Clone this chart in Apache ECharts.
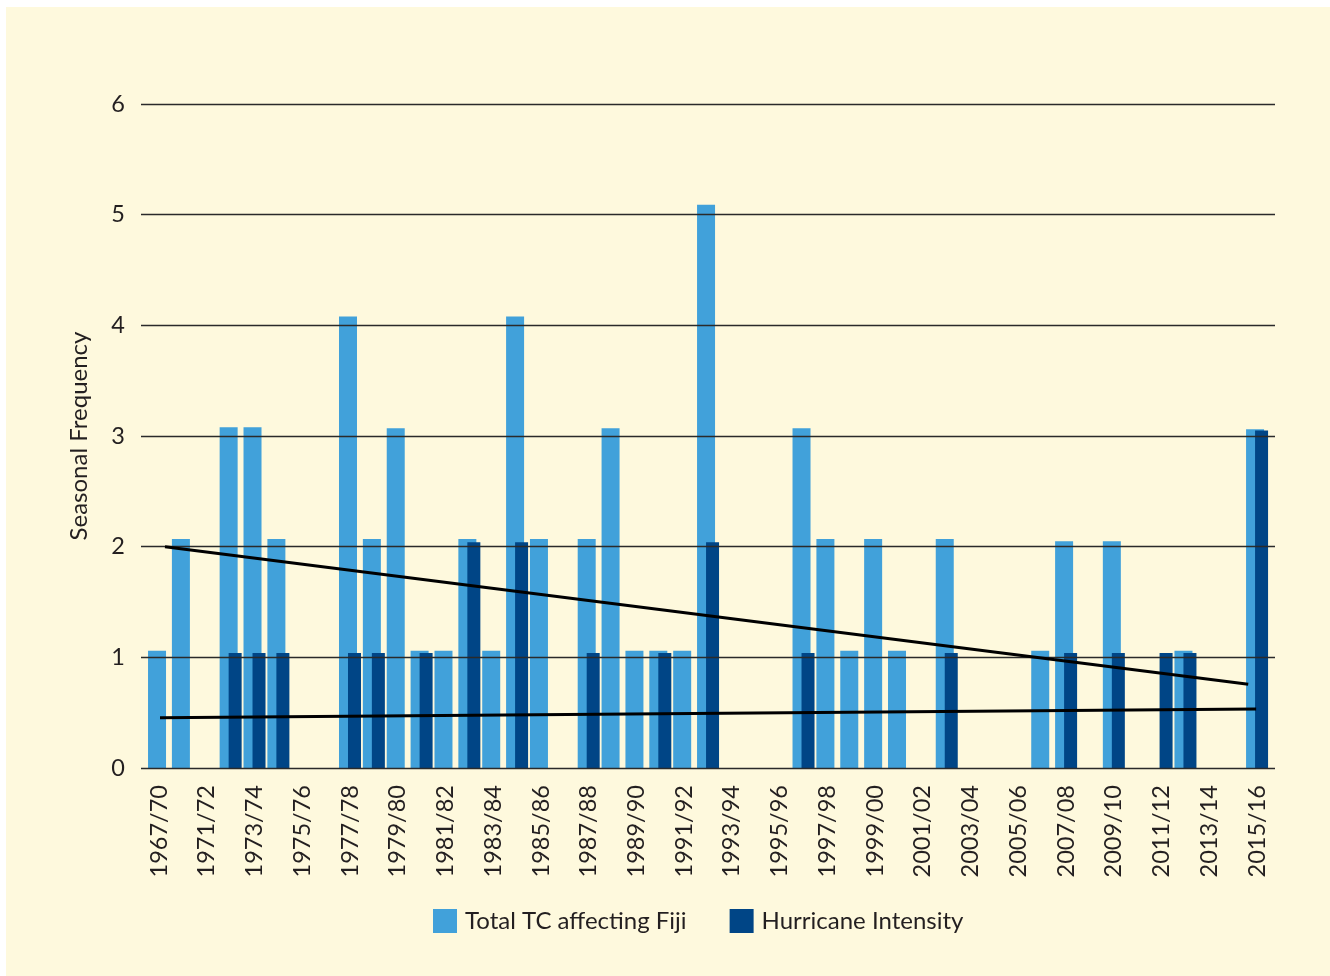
<!DOCTYPE html>
<html>
<head>
<meta charset="utf-8">
<script src="https://cdn.jsdelivr.net/npm/echarts@6/dist/echarts.min.js"></script>
<style>
  html, body { margin: 0; padding: 0; background: #ffffff; }
  #chart { position: absolute; left: 6px; top: 7px; width: 1324px; height: 969px; background: #fef9dd; }
</style>
</head>
<body>
<div id="chart"></div>
<script>
const seasons = [
  "1967/70", "1970/71", "1971/72", "1972/73", "1973/74", "1974/75", "1975/76", "1976/77",
  "1977/78", "1978/79", "1979/80", "1980/81", "1981/82", "1982/83", "1983/84", "1984/85",
  "1985/86", "1986/87", "1987/88", "1988/89", "1989/90", "1990/91", "1991/92", "1992/93",
  "1993/94", "1994/95", "1995/96", "1996/97", "1997/98", "1998/99", "1999/00", "2000/01",
  "2001/02", "2002/03", "2003/04", "2004/05", "2005/06", "2006/07", "2007/08", "2008/09",
  "2009/10", "2010/11", "2011/12", "2012/13", "2013/14", "2014/15", "2015/16"
]

const totalTC = [
  1.06, 2.07, null, 3.08, 3.08, 2.07, null, null,
  4.08, 2.07, 3.07, 1.06, 1.06, 2.07, 1.06, 4.08,
  2.07, null, 2.07, 3.07, 1.06, 1.06, 1.06, 5.09,
  null, null, null, 3.07, 2.07, 1.06, 2.07, 1.06,
  null, 2.07, null, null, null, 1.06, 2.05, null,
  2.05, null, null, 1.06, null, null, 3.06
]

const hurricanes = [
  null, null, null, 1.04, 1.04, 1.04, null, null,
  1.04, 1.04, null, 1.04, null, 2.04, null, 2.04,
  null, null, 1.04, null, null, 1.04, null, 2.04,
  null, null, null, 1.04, null, null, null, null,
  null, 1.04, null, null, null, null, 1.04, null,
  1.04, null, 1.04, 1.04, null, null, 3.05
]

// trend lines: [category position, value] at each end
const trendTotal = [[0.25, 2.0], [45.63, 0.756]]
const trendHurricane = [[0.04, 0.455], [45.96, 0.533]]

const yTicks = { min: 0, max: 6, interval: 1 }

const font = "Lato, 'Open Sans', sans-serif"
const ink = "#231f20"

const chart = echarts.init(document.getElementById("chart"), null, { renderer: "canvas" })

chart.setOption({
  backgroundColor: "#fef9dd",
  animation: false,
  textStyle: { fontFamily: font, color: ink },
  legend: {
    left: 427,
    top: 902,
    padding: 0,
    itemWidth: 24,
    itemHeight: 24,
    itemGap: 43,
    icon: "rect",
    data: ["Total TC affecting Fiji", "Hurricane Intensity"],
    textStyle: { fontFamily: font, fontSize: 24, color: ink, padding: [5, 0, 0, 3] }
  },
  grid: [
    { left: 141.1, right: 61, top: 97, bottom: 208 },
    { left: 135, right: 55, top: 97, bottom: 208 }
  ],
  xAxis: [
    {
      type: "category",
      gridIndex: 0,
      data: seasons,
      axisLine: { show: false },
      axisTick: { show: false },
      axisLabel: {
        interval: 1,
        rotate: 90,
        margin: 17,
        fontFamily: font,
        fontSize: 23.5,
        color: ink
      }
    },
    { type: "value", gridIndex: 0, min: -0.5, max: 46.5, show: false },
    { type: "value", gridIndex: 1, show: false }
  ],
  yAxis: [
    { type: "value", gridIndex: 0, ...yTicks, show: false },
    {
      type: "value",
      gridIndex: 1,
      ...yTicks,
      z: 3,
      name: "Seasonal Frequency",
      nameLocation: "middle",
      nameGap: 50,
      nameTextStyle: { fontFamily: font, fontSize: 24, color: ink },
      axisLine: { show: false },
      axisTick: { show: false },
      axisLabel: { margin: 16, padding: [0, 0, 5, 0], fontFamily: font, fontSize: 23.5, color: ink },
      splitLine: { lineStyle: { color: "#2a2a2a", width: 1.3 } }
    }
  ],
  series: [
    {
      name: "Total TC affecting Fiji",
      type: "bar",
      xAxisIndex: 0,
      yAxisIndex: 0,
      barWidth: 18,
      barGap: "-50%",
      itemStyle: { color: "#41a1da" },
      data: totalTC
    },
    {
      name: "Hurricane Intensity",
      type: "bar",
      xAxisIndex: 0,
      yAxisIndex: 0,
      barWidth: 13,
      barGap: "-50%",
      itemStyle: { color: "#004586" },
      data: hurricanes
    },
    {
      type: "line",
      xAxisIndex: 1,
      yAxisIndex: 0,
      z: 5,
      symbol: "none",
      lineStyle: { color: "#000000", width: 3 },
      data: trendTotal
    },
    {
      type: "line",
      xAxisIndex: 1,
      yAxisIndex: 0,
      z: 5,
      symbol: "none",
      lineStyle: { color: "#000000", width: 3 },
      data: trendHurricane
    }
  ]
})
</script>
</body>
</html>
